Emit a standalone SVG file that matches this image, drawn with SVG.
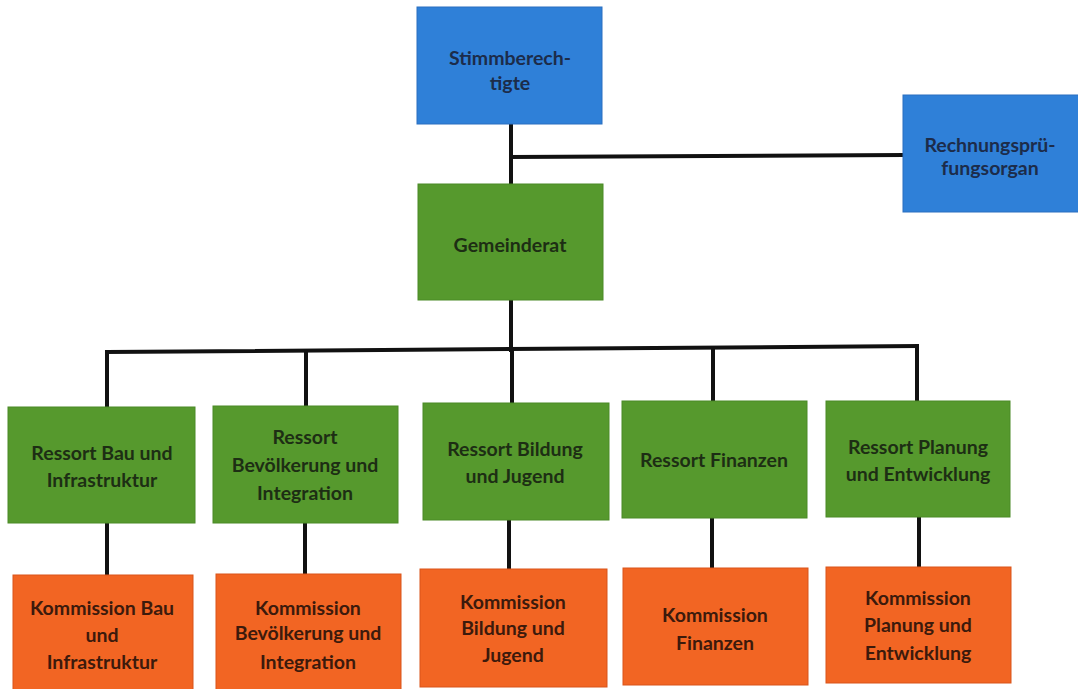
<svg xmlns="http://www.w3.org/2000/svg" width="1078" height="689" viewBox="0 0 1078 689">
<style>
.blue{fill:#2f80d8;stroke:#2a6fc0;stroke-width:1}
.green{fill:#56992d;stroke:#4b8a27;stroke-width:1}
.orange{fill:#f26523;stroke:#d9551a;stroke-width:1}
text{font-family:Lato,"Liberation Sans",sans-serif;font-size:19.5px;font-weight:bold;text-anchor:middle}
.tb{fill:#1c2c4a}
.tg{fill:#1d2e14}
.to{fill:#3c1a0c}
.conn{stroke:#111;stroke-width:4;fill:none;stroke-linecap:square}
</style>
<rect width="1078" height="689" fill="#ffffff"/>
<g id="connectors">
<path class="conn" d="M511 124 V184"/>
<path class="conn" d="M511 157 L903 155"/>
<path class="conn" d="M511 300 V350"/>
<path class="conn" d="M107 352 L917 346"/>
<path class="conn" d="M107 352 V407"/>
<path class="conn" d="M306 351 V406"/>
<path class="conn" d="M512 350 V403"/>
<path class="conn" d="M713 348 V401"/>
<path class="conn" d="M917 346 V401"/>
<path class="conn" d="M107 523 V575"/>
<path class="conn" d="M305 523 V574"/>
<path class="conn" d="M509 520 V569"/>
<path class="conn" d="M712 518 V568"/>
<path class="conn" d="M919 517 V567"/>
</g>
<g id="stimmberechtigte">
<rect class="blue" x="417" y="7" width="185" height="117"/>
<text class="tb" x="510" y="65">Stimmberech-</text>
<text class="tb" x="510" y="90">tigte</text>
</g>
<g id="rechnungspruefungsorgan">
<rect class="blue" x="903" y="95" width="180" height="117"/>
<text class="tb" x="990" y="152">Rechnungsprü-</text>
<text class="tb" x="990" y="175">fungsorgan</text>
</g>
<g id="gemeinderat">
<rect class="green" x="418" y="184" width="185" height="116"/>
<text class="tg" x="510" y="252">Gemeinderat</text>
</g>
<g id="ressort-bau">
<rect class="green" x="8" y="407" width="187" height="116"/>
<text class="tg" x="102" y="460">Ressort Bau und</text>
<text class="tg" x="102" y="487">Infrastruktur</text>
</g>
<g id="ressort-bevoelkerung">
<rect class="green" x="213" y="406" width="185" height="117"/>
<text class="tg" x="305" y="444">Ressort</text>
<text class="tg" x="305" y="472">Bevölkerung und</text>
<text class="tg" x="305" y="500">Integration</text>
</g>
<g id="ressort-bildung">
<rect class="green" x="423" y="403" width="186" height="117"/>
<text class="tg" x="515" y="456">Ressort Bildung</text>
<text class="tg" x="515" y="483">und Jugend</text>
</g>
<g id="ressort-finanzen">
<rect class="green" x="622" y="401" width="185" height="117"/>
<text class="tg" x="714" y="467">Ressort Finanzen</text>
</g>
<g id="ressort-planung">
<rect class="green" x="826" y="401" width="184" height="116"/>
<text class="tg" x="918" y="454">Ressort Planung</text>
<text class="tg" x="918" y="481">und Entwicklung</text>
</g>
<g id="kommission-bau">
<rect class="orange" x="13" y="575" width="180" height="120"/>
<text class="to" x="102" y="615">Kommission Bau</text>
<text class="to" x="102" y="642">und</text>
<text class="to" x="102" y="669">Infrastruktur</text>
</g>
<g id="kommission-bevoelkerung">
<rect class="orange" x="216" y="574" width="185" height="120"/>
<text class="to" x="308" y="615">Kommission</text>
<text class="to" x="308" y="640">Bevölkerung und</text>
<text class="to" x="308" y="669">Integration</text>
</g>
<g id="kommission-bildung">
<rect class="orange" x="420" y="569" width="187" height="118"/>
<text class="to" x="513" y="609">Kommission</text>
<text class="to" x="513" y="635">Bildung und</text>
<text class="to" x="513" y="662">Jugend</text>
</g>
<g id="kommission-finanzen">
<rect class="orange" x="623" y="568" width="185" height="117"/>
<text class="to" x="715" y="622">Kommission</text>
<text class="to" x="715" y="650">Finanzen</text>
</g>
<g id="kommission-planung">
<rect class="orange" x="826" y="567" width="185" height="116"/>
<text class="to" x="918" y="605">Kommission</text>
<text class="to" x="918" y="632">Planung und</text>
<text class="to" x="918" y="660">Entwicklung</text>
</g>
</svg>
